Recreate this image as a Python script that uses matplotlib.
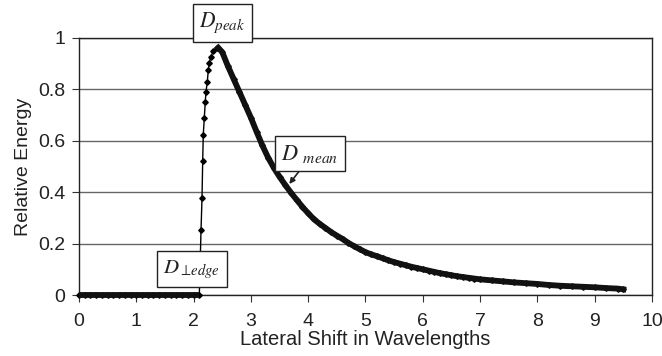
import numpy as np
import matplotlib
matplotlib.use("Agg")
import matplotlib.pyplot as plt

# values
zero_x = [0.0, 0.1, 0.2, 0.3, 0.4, 0.5, 0.6, 0.7, 0.8, 0.9, 1.0, 1.1, 1.2, 1.3,
          1.4, 1.5, 1.6, 1.7, 1.8, 1.9, 2.0, 2.1]
zero_y = [0.0] * len(zero_x)

rise_x = [2.13, 2.147, 2.159, 2.169, 2.187, 2.204, 2.216, 2.239, 2.257, 2.274,
          2.298, 2.344, 2.40]
rise_y = [0.253, 0.377, 0.521, 0.623, 0.689, 0.751, 0.79, 0.829, 0.875, 0.903,
          0.926, 0.949, 0.961]

decay_x = [2.43, 2.5, 2.6, 2.7, 2.8, 2.9, 3.0, 3.1, 3.2, 3.3, 3.4, 3.5, 3.6, 3.7,
           3.8, 3.9, 4.0, 4.1, 4.2, 4.3, 4.4, 4.5, 4.6, 4.7, 4.8, 4.9, 5.0, 5.1,
           5.2, 5.3, 5.4, 5.5, 5.6, 5.7, 5.8, 5.9, 6.0, 6.1, 6.2, 6.3, 6.4, 6.5,
           6.6, 6.7, 6.8, 6.9, 7.0, 7.2, 7.4, 7.6, 7.8, 8.0, 8.2, 8.4, 8.6, 8.8,
           9.0, 9.2, 9.4, 9.5]
decay_y = [0.962, 0.945, 0.89, 0.84, 0.79, 0.74, 0.69, 0.635, 0.582, 0.535, 0.495,
           0.46, 0.428, 0.398, 0.37, 0.343, 0.318, 0.295, 0.277, 0.261, 0.245,
           0.231, 0.218, 0.203, 0.19, 0.178, 0.167, 0.158, 0.151, 0.143, 0.135,
           0.128, 0.122, 0.116, 0.11, 0.105, 0.1, 0.095, 0.09, 0.085, 0.081,
           0.077, 0.073, 0.07, 0.067, 0.064, 0.061, 0.057, 0.053, 0.049, 0.046,
           0.043, 0.039, 0.036, 0.034, 0.032, 0.03, 0.027, 0.025, 0.022]

x_ticks = [0, 1, 2, 3, 4, 5, 6, 7, 8, 9, 10]
y_ticks = [0, 0.2, 0.4, 0.6, 0.8, 1]
y_ticklabels = ["0", "0.2", "0.4", "0.6", "0.8", "1"]

plt.rcParams['font.family'] = ['Liberation Sans', 'DejaVu Sans']
plt.rcParams['mathtext.fontset'] = 'stix'

fig = plt.figure(figsize=(6.62, 3.56), dpi=100)
ax = fig.add_axes([0.1193, 0.1713, 0.8656, 0.722])

all_x = zero_x + rise_x + decay_x
all_y = zero_y + rise_y + decay_y

# thin connecting line + markers for the whole curve
ax.plot(all_x, all_y, color="black", lw=1, marker="D", ms=2.8, zorder=3, clip_on=False)
# the dense parts look like a solid band
ax.plot(zero_x, zero_y, color="#111111", lw=4.2, zorder=4, solid_capstyle="butt",
        clip_on=False)
ax.plot(decay_x, decay_y, color="#111111", lw=4.2, zorder=3)

ax.set_xlim(0, 10)
ax.set_ylim(0, 1)
ax.set_xticks(x_ticks)
ax.set_yticks(y_ticks)
ax.set_yticklabels(y_ticklabels)
ax.tick_params(direction="out", length=5, width=0.8, labelsize=14, color="#333333",
               labelcolor="#222222", pad=5)
ax.tick_params(axis="x", pad=8)
ax.yaxis.grid(True, color="#666666", lw=1)
ax.set_axisbelow(True)
for s in ax.spines.values():
    s.set_color("#222222")
    s.set_linewidth(1)

ax.set_xlabel("Lateral Shift in Wavelengths", fontsize=14.5, color="#222222", labelpad=0)
ax.set_ylabel("Relative Energy", fontsize=14, color="#222222", labelpad=4)

box = dict(boxstyle="square,pad=0.3", fc="white", ec="#222222", lw=1)
ax.text(2.5, 1.058, r"$D_{peak}$", fontsize=15.5, ha="center", va="center",
        bbox=box, zorder=6, clip_on=False, color="#222222")
ax.text(1.97, 0.101, r"$D_{\perp\!edge}$", fontsize=15, ha="center", va="center",
        bbox=box, zorder=6, color="#222222")
ax.annotate(r"$D\ _{mean}$", xy=(3.67, 0.432), xytext=(4.03, 0.55), fontsize=16,
            ha="center", va="center", bbox=box, zorder=6, color="#222222",
            arrowprops=dict(arrowstyle="-|>", color="#222222", lw=1.2,
                            shrinkA=0, shrinkB=0, mutation_scale=8,
                            relpos=(0.4, 0.0)))

fig.savefig("out.png", dpi=100)
